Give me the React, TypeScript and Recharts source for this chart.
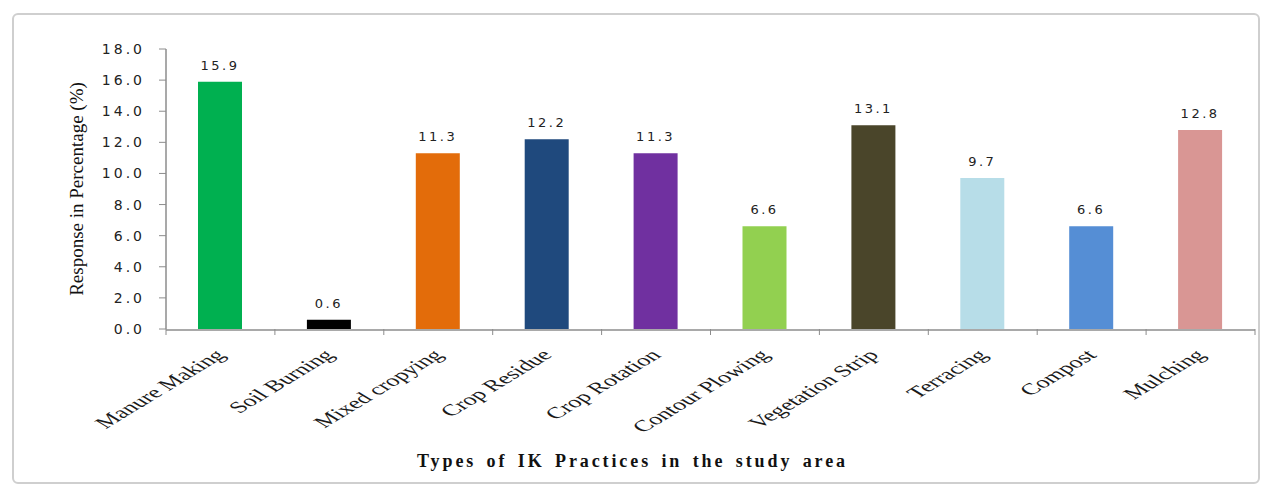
import React from 'react'
import { BarChart, Bar, Cell, XAxis, YAxis, LabelList } from 'recharts'

const practices = [
  'Manure Making',
  'Soil Burning',
  'Mixed cropying',
  'Crop Residue',
  'Crop Rotation',
  'Contour Plowing',
  'Vegetation Strip',
  'Terracing',
  'Compost',
  'Mulching',
]
const responses = [15.9, 0.6, 11.3, 12.2, 11.3, 6.6, 13.1, 9.7, 6.6, 12.8]
const barColors = [
  '#00b050',
  '#000000',
  '#e36c0a',
  '#1f497d',
  '#7030a0',
  '#92d050',
  '#4a452a',
  '#b7dde8',
  '#558ed5',
  '#d99694',
]
const yTicks = [0, 2, 4, 6, 8, 10, 12, 14, 16, 18]
const boundaryTicks = [0, 1, 2, 3, 4, 5, 6, 7, 8, 9, 10]

const data = practices.map((name, i) => ({ name, value: responses[i], idx: i + 0.5 }))

const sans = 'DejaVu Sans, Verdana, sans-serif'
const serif = 'Liberation Serif, Times New Roman, serif'
const gray = '#8c8c8c'

// the source picture is stretched sideways, so the slanted labels are too
function CategoryTick(props: any) {
  const { x, y, payload } = props
  return (
    <text
      transform={`translate(${x + 6}, ${y + 18}) scale(1.65, 1) rotate(-45)`}
      textAnchor="end"
      fontFamily={serif}
      fontSize={16}
      fill="#1a1a1a"
    >
      {payload.value}
    </text>
  )
}

const NoTick = () => <g />

export default function App() {
  return (
    <div style={{ position: 'absolute', left: 0, top: 0, width: 1265, height: 487, background: '#fff' }}>
      <div
        style={{
          position: 'absolute',
          left: 12,
          top: 13,
          width: 1244,
          height: 467,
          border: '2px solid #cfcfcf',
          borderRadius: 6,
        }}
      />
      <div style={{ position: 'absolute', left: 0, top: 0 }}>
        <BarChart
          width={1265}
          height={487}
          data={data}
          margin={{ top: 49, right: 10, left: 0, bottom: 0 }}
        >
          {/* tick marks between the categories, sits right on the plot bottom */}
          <XAxis
            xAxisId={0}
            type="number"
            dataKey="idx"
            domain={[0, 10]}
            ticks={boundaryTicks}
            interval={0}
            height={1}
            axisLine={false}
            tick={<NoTick />}
            tickLine={{ stroke: gray }}
            tickSize={6}
          />
          <XAxis
            xAxisId={1}
            dataKey="name"
            interval={0}
            height={157}
            tickLine={false}
            axisLine={{ stroke: gray, strokeWidth: 1.5 }}
            tick={<CategoryTick />}
          />
          <YAxis
            width={166}
            domain={[0, 18]}
            ticks={yTicks}
            interval={0}
            tickFormatter={(v: number) => v.toFixed(1)}
            axisLine={{ stroke: gray, strokeWidth: 1.5 }}
            tickLine={{ stroke: gray }}
            tickSize={7}
            tickMargin={14}
            tick={{ fontFamily: sans, fontSize: 14, fill: '#222', letterSpacing: 3 }}
            label={{
              value: 'Response in Percentage (%)',
              angle: -90,
              position: 'insideLeft',
              offset: 76,
              style: { fontFamily: serif, fontSize: 19, fill: '#111', textAnchor: 'middle' },
            }}
          />
          <Bar xAxisId={1} dataKey="value" barSize={44} isAnimationActive={false}>
            {data.map((d, i) => (
              <Cell key={d.name} fill={barColors[i]} />
            ))}
            <LabelList
              dataKey="value"
              position="top"
              offset={12}
              formatter={(v: any) => Number(v).toFixed(1)}
              style={{ fontFamily: sans, fontSize: 13, fill: '#222', letterSpacing: 2.5 }}
            />
          </Bar>
        </BarChart>
      </div>
      <div
        style={{
          position: 'absolute',
          left: 0,
          width: 1265,
          top: 451,
          textAlign: 'center',
          fontFamily: serif,
          fontWeight: 'bold',
          fontSize: 18,
          letterSpacing: 2.9,
          wordSpacing: 3,
          color: '#111',
        }}
      >
        Types of IK Practices in the study area
      </div>
    </div>
  )
}
